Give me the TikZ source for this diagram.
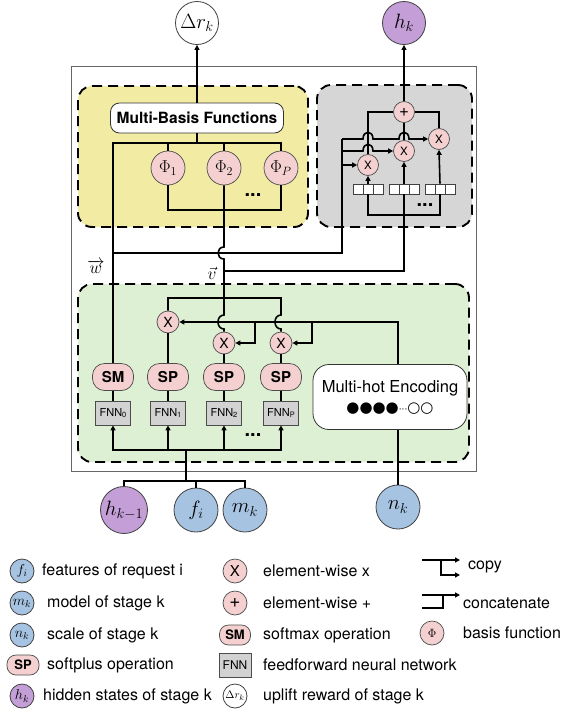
\documentclass[tikz,border=0pt]{standalone}
\usepackage{fontspec}
\setmainfont{TeX Gyre Heros}
\newfontfamily\dotsfont{DejaVu Sans}
\usepackage{amsmath}
\usetikzlibrary{arrows.meta, positioning}

\definecolor{inblue}{RGB}{166,196,226}
\definecolor{hidpurple}{RGB}{196,158,214}
\definecolor{oppink}{RGB}{244,208,208}
\definecolor{basisyellow}{RGB}{242,235,164}
\definecolor{gategray}{RGB}{214,214,214}
\definecolor{encgreen}{RGB}{222,240,212}
\definecolor{fnngray}{RGB}{210,210,210}

\newcommand{\fnnsub}[1]{\raisebox{-1.5pt}{\fontsize{7.5}{8}\selectfont #1}}

\begin{document}
\begin{tikzpicture}[
    x=1pt, y=-1pt,
    every node/.style={font=\fontsize{16}{19}\selectfont},
    outerbox/.style={draw=black!60, line width=0.8pt, inner sep=0pt},
    dashbox/.style={
        draw, line width=1.9pt, dash pattern=on 10pt off 6pt,
        rounded corners=14pt, inner sep=0pt
    },
    var/.style={
        circle, draw=black!75, line width=0.8pt, inner sep=0pt,
        minimum size=44pt, font=\fontsize{21}{23}\selectfont
    },
    basis/.style={
        circle, draw=black!70, fill=oppink, line width=0.7pt, inner sep=0pt,
        minimum size=34pt, font=\fontsize{17}{19}\selectfont
    },
    mul/.style={
        circle, draw=black!70, fill=oppink, line width=0.7pt, inner sep=0pt,
        minimum size=22pt, font=\fontsize{14}{15}\selectfont
    },
    act/.style={
        draw=black!70, fill=oppink, line width=0.7pt, rounded corners=12pt,
        minimum width=41pt, minimum height=27pt, inner sep=0pt,
        font=\fontsize{15}{17}\selectfont\bfseries
    },
    fnn/.style={
        draw=black!70, fill=fnngray, line width=0.7pt,
        minimum width=35pt, minimum height=24pt, inner sep=0pt,
        font=\fontsize{11}{12}\selectfont
    },
    vecbox/.style={
        draw=black!75, fill=white, line width=0.7pt,
        minimum width=30pt, minimum height=10pt, inner sep=0pt,
        path picture={
            \draw[black!75, line width=0.7pt]
                ([xshift=10pt]path picture bounding box.north west) -- ([xshift=10pt]path picture bounding box.south west)
                ([xshift=-10pt]path picture bounding box.north east) -- ([xshift=-10pt]path picture bounding box.south east);
        }
    },
    panel/.style={draw=black!80, fill=white, line width=0.8pt, rounded corners=9pt, inner sep=0pt},
    link/.style={line width=1.6pt},
    arr/.style={line width=1.6pt, -{Triangle[length=5pt, width=5pt]}},
    lgtext/.style={anchor=west, inner sep=0pt},
]
\useasboundingbox (0,0) rectangle (580,710);

% ── frame and panels ──
\node[outerbox, minimum width=405pt, minimum height=405pt] (outer) at (273.5,268.5) {};
\node[dashbox, fill=basisyellow, minimum width=230pt, minimum height=141pt] (basisbox) at (193,156.5) {};
\node[dashbox, fill=gategray, minimum width=155pt, minimum height=142pt] (gatebox) at (394.5,156) {};
\node[dashbox, fill=encgreen, minimum width=391pt, minimum height=178pt] (encbox) at (273.5,373) {};

% ── outputs ──
\node[var, fill=white, minimum size=43pt] (drk) at (197,23) {$\Delta r_k$};
\node[var, fill=hidpurple, minimum size=43pt] (hk) at (404,23) {$h_k$};

% ── multi-basis block ──
\node[panel, minimum width=173pt, minimum height=30pt, font=\fontsize{15.5}{17}\selectfont\bfseries] (mbf) at (197,118) {Multi-Basis Functions};
\node[basis] (phi1) at (168,168) {$\Phi_1$};
\node[basis] (phi2) at (224,168) {$\Phi_2$};
\node[basis] (phiP) at (281,168) {$\Phi_P$};
\node[font=\fontsize{20}{20}\selectfont\bfseries] (basisdots) at (253,195) {...};

% ── gating block ──
\node[mul, minimum size=21pt, font=\fontsize{17}{17}\selectfont] (plus) at (404,112) {+};
\node[mul, minimum size=21pt, font=\fontsize{11.5}{12}\selectfont] (g1) at (368,165) {X};
\node[mul, minimum size=21pt, font=\fontsize{11.5}{12}\selectfont] (g2) at (404,151) {X};
\node[mul, minimum size=21pt, font=\fontsize{11.5}{12}\selectfont] (g3) at (439,139) {X};
\node[vecbox] (vec1) at (368,189) {};
\node[vecbox] (vec2) at (404,189) {};
\node[vecbox] (vec3) at (440,189) {};
\node[font=\fontsize{20}{20}\selectfont\bfseries] (gatedots) at (425,205) {...};

% ── encoding block ──
\node[act] (sm) at (113,377) {SM};
\node[act] (sp1) at (168,377) {SP};
\node[act] (sp2) at (224,377) {SP};
\node[act] (sp3) at (281,377) {SP};
\node[fnn] (fnn0) at (113,413) {FNN\fnnsub{0}};
\node[fnn] (fnn1) at (168,413) {FNN\fnnsub{1}};
\node[fnn] (fnn2) at (224,413) {FNN\fnnsub{2}};
\node[fnn] (fnnP) at (281,413) {FNN\fnnsub{P}};
\node[mul] (m1) at (168,322) {X};
\node[mul] (m2) at (224,343) {X};
\node[mul] (m3) at (281,343) {X};
\node[panel, rounded corners=16pt, minimum width=154pt, minimum height=65pt, align=center,
      font=\fontsize{16.5}{21}\selectfont] (mhe) at (390,397)
      {Multi-hot Encoding\\[-1pt]{\fontsize{15}{15}\dotsfont ●●●●}{\fontsize{9}{15}\dotsfont ···}{\fontsize{15}{15}\dotsfont ○○}};
\node[font=\fontsize{20}{20}\selectfont\bfseries] (encdots) at (253,435) {...};

% ── inputs ──
\node[var, fill=hidpurple, minimum size=47pt] (hprev) at (124,510) {$h_{k-1}$};
\node[var, fill=inblue] (fi) at (196,510) {$f_i$};
\node[var, fill=inblue] (mk) at (245,510) {$m_k$};
\node[var, fill=inblue] (nk) at (398,507) {$n_k$};

\node[font=\fontsize{18}{20}\selectfont] (wlabel) at (96,267) {$\overrightarrow{w}$};
\node[font=\fontsize{19}{21}\selectfont] (vlabel) at (212,273) {$\vec{v}$};

% ── junctions ──
\coordinate (wtop) at (113,143);
\coordinate (wmid) at (113,253);
\coordinate (wcopy) at (342,139);
\coordinate (pjoin) at (224,210);
\coordinate (vjoin) at (224,271);
\coordinate (vbus) at (224,298);
\coordinate (gbus) at (404,215);
\coordinate (fin) at (186,450);
\coordinate (inbus) at (186,481);

% ── Relationships ──
\draw[arr] (mbf.north) -- (drk.south);
\draw[arr] (plus.north) -- (hk.south);
\draw[link] (sm.north) -- (wtop) -| (phiP.north);
\draw[link] (mbf.south) -- (mbf.south |- wtop);
\draw[link] (phi1.north) -- (phi1 |- wtop);
\draw[link] (phi2.north) -- (phi2 |- wtop);
\draw[link] (phi1.south) |- (phiP.south |- pjoin) -- (phiP.south);
% v goes down with two hops
\draw[link] (phi2.south) -- (224,247) .. controls (216,247) and (216,259) .. (224,259)
    -- (224,315) .. controls (216,315) and (216,329) .. (224,329) -- (m2.north);
\draw[link] (vjoin) -| (vec2.south);
\draw[link] (vec1.south) |- (gbus) -| (vec3.south);
\draw[arr] (vec1.north) -- (g1.south);
\draw[arr] (vec2.north) -- (g2.south);
\draw[arr] (vec3.north) -- (g3.south);
% w copied into the gate
\draw[link] (wmid) -- (wcopy |- wmid) -- (wcopy);
\draw[arr] (wcopy) -- (363,139) .. controls (363,130) and (373,130) .. (373,139)
    -- (399,139) .. controls (399,130) and (409,130) .. (409,139) -- (g3.west);
\draw[arr] (wcopy |- g2) -- (363,151) .. controls (363,142) and (373,142) .. (373,151) -- (g2.west);
\draw[arr] (wcopy |- g1) -- (g1.west);
\draw[link] (plus.west) -| (g1.north);
\draw[link] (plus.east) -| (g3.north);
\draw[link] (plus.south) -- (g2.north);
% products in the encoder
\draw[link] (m1.north) |- (vbus) -- (281,298)
    -- (281,315) .. controls (273,315) and (273,329) .. (281,329) -- (m3.north);
\draw[arr] (nk |- mhe.north) -- (nk |- m1) -- (m1.east);
\draw[arr] (255,322) |- (m2.east);
\draw[arr] (312,322) |- (m3.east);
\draw[link] (m1.south) -- (sp1.north);
\draw[link] (m2.south) -- (sp2.north);
\draw[link] (m3.south) -- (sp3.north);
\draw[link] (fnn0.north) -- (sm.south);
\draw[link] (fnn1.north) -- (sp1.south);
\draw[link] (fnn2.north) -- (sp2.south);
\draw[link] (fnnP.north) -- (sp3.south);
\draw[arr] (fin) -| (fnn0.south);
\draw[arr] (fin) -| (fnnP.south);
\draw[arr] (fnn1.south |- fin) -- (fnn1.south);
\draw[arr] (fnn2.south |- fin) -- (fnn2.south);
\draw[link] (inbus) -- (fin);
\draw[link] (hprev.north) |- (mk.north |- inbus) -- (mk.north);
\draw[link] (fi.north) -- (fi.north |- inbus);
\draw[link] (nk.north) -- (nk |- mhe.south);

% ── legend ──
\node[var, fill=inblue, minimum size=24pt, font=\fontsize{14}{15}\selectfont] (lgf) at (22,571) {$f_i$};
\node[var, fill=inblue, minimum size=24pt, font=\fontsize{14}{15}\selectfont] (lgm) at (22,603) {$m_k$};
\node[var, fill=inblue, minimum size=24pt, font=\fontsize{14}{15}\selectfont] (lgn) at (22,635) {$n_k$};
\node[act, minimum width=32pt, minimum height=20pt, rounded corners=9pt, font=\fontsize{13}{14}\selectfont\bfseries] (lgsp) at (23,665) {SP};
\node[var, fill=hidpurple, minimum size=24pt, font=\fontsize{14}{15}\selectfont] (lgh) at (22,696) {$h_k$};
\node[lgtext] (lgftext) at (42,571) {features of request i};
\node[lgtext] (lgmtext) at (47,603) {model of stage k};
\node[lgtext] (lgntext) at (47,635) {scale of stage k};
\node[lgtext] (lgsptext) at (47,665) {softplus operation};
\node[lgtext] (lghtext) at (43,696) {hidden states of stage k};

\node[mul, minimum size=24pt, font=\fontsize{15}{16}\selectfont] (lgmul) at (235,571) {X};
\node[mul, minimum size=24pt, font=\fontsize{19}{19}\selectfont] (lgplus) at (235,603) {+};
\node[act, minimum width=31pt, minimum height=20pt, rounded corners=9pt, font=\fontsize{13}{14}\selectfont\bfseries] (lgsm) at (235,635) {SM};
\node[fnn, minimum width=32pt, minimum height=24pt, font=\fontsize{12}{13}\selectfont] (lgfnn) at (235,665) {FNN};
\node[var, fill=white, minimum size=24pt, font=\fontsize{11}{12}\selectfont] (lgdr) at (235,696) {$\Delta r_k$};
\node[lgtext] (lgmultext) at (263,571) {element-wise x};
\node[lgtext] (lgplustext) at (263,603) {element-wise +};
\node[lgtext] (lgsmtext) at (263,635) {softmax operation};
\node[lgtext] (lgfnntext) at (263,665) {feedforward neural network};
\node[lgtext] (lgdrtext) at (263,696) {uplift reward of stage k};

\coordinate (cpA) at (422,560);
\coordinate (cpK) at (441,560);
\coordinate (cpB) at (460,560);
\coordinate (cpC) at (460,575);
\draw[arr] (cpA) -- (cpB);
\draw[arr] (cpK) |- (cpC);
\node[lgtext] (lgcopy) at (468,567) {copy};
\coordinate (ccA) at (422,608);
\coordinate (ccK) at (443,595);
\coordinate (ccB) at (422,595);
\coordinate (ccC) at (460,595);
\draw[link] (ccA) -| (ccK);
\draw[arr] (ccB) -- (ccC);
\node[lgtext] (lgconcat) at (463,603) {concatenate};
\node[basis, minimum size=24pt, font=\fontsize{13}{14}\selectfont] (lgphi) at (432,633) {$\Phi$};
\node[lgtext] (lgphitext) at (463,633) {basis function};

\end{tikzpicture}
\end{document}
